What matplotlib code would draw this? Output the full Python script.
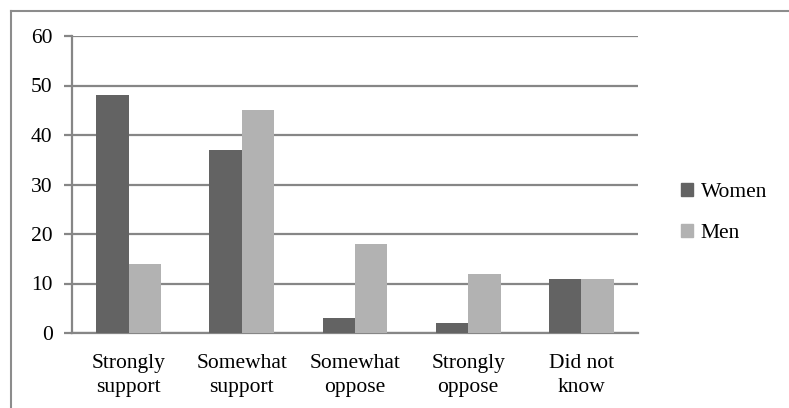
import matplotlib
matplotlib.use("Agg")
import matplotlib.pyplot as plt
import numpy as np
from matplotlib.lines import Line2D

categories = ["Strongly\nsupport", "Somewhat\nsupport", "Somewhat\noppose", "Strongly\noppose", "Did not\nknow"]
women = [48, 37, 3, 2, 11]
men = [14, 45, 18, 12, 11]
series_names = ["Women", "Men"]
yticks = [0, 10, 20, 30, 40, 50, 60]

W, H = 789, 408
fig = plt.figure(figsize=(W / 100, H / 100), dpi=100)
plt.rcParams["font.family"] = ["Liberation Serif", "DejaVu Serif"]
FS = 15.5

# plot area in pixel coordinates
x0, x1 = 72, 638
y_top, y_bot = 36, 333
ax = fig.add_axes([x0 / W, 1 - y_bot / H, (x1 - x0) / W, (y_bot - y_top) / H])

grid_col = "#868686"
c_women = "#636363"
c_men = "#b2b2b2"

x = np.arange(len(categories))
bw = 0.287
ax.bar(x - bw / 2, women, bw, color=c_women, label=series_names[0], zorder=3)
ax.bar(x + bw / 2, men, bw, color=c_men, label=series_names[1], zorder=3)

ax.set_xlim(-0.5, len(categories) - 0.5)
ax.set_ylim(0, 60)
ax.set_yticks(yticks)
ax.set_yticklabels([str(t) for t in yticks], fontsize=FS)
ax.yaxis.grid(True, color=grid_col, linewidth=1.6, zorder=0)
ax.set_xticks(x)
ax.set_xticklabels(categories, fontsize=FS, linespacing=1.35)
ax.tick_params(axis="x", length=0, pad=15)
ax.tick_params(axis="y", length=6, width=1.6, color=grid_col, pad=8, direction="out")
for s in ["top", "right"]:
    ax.spines[s].set_visible(False)
ax.spines["left"].set_color(grid_col)
ax.spines["left"].set_linewidth(1.6)
ax.spines["bottom"].set_color(grid_col)
ax.spines["bottom"].set_linewidth(1.6)
ax.spines["left"].set_zorder(4)

# legend
handles = [plt.Rectangle((0, 0), 1, 1, color=c_women), plt.Rectangle((0, 0), 1, 1, color=c_men)]
fig.legend(handles, series_names, loc="center left", bbox_to_anchor=(662 / W, 1 - 213 / H),
           frameon=False, fontsize=FS, handlelength=0.55, handleheight=0.55,
           handletextpad=0.35, labelspacing=1.05)

# chart frame (left and top edges)
fig.add_artist(Line2D([11 / W, 11 / W], [0, 1 - 11 / H], color="#8c8c8c", linewidth=1.5,
                      transform=fig.transFigure))
fig.add_artist(Line2D([11 / W, 1], [1 - 11 / H, 1 - 11 / H], color="#8c8c8c", linewidth=1.5,
                      transform=fig.transFigure))

fig.savefig("out.png", dpi=100)
